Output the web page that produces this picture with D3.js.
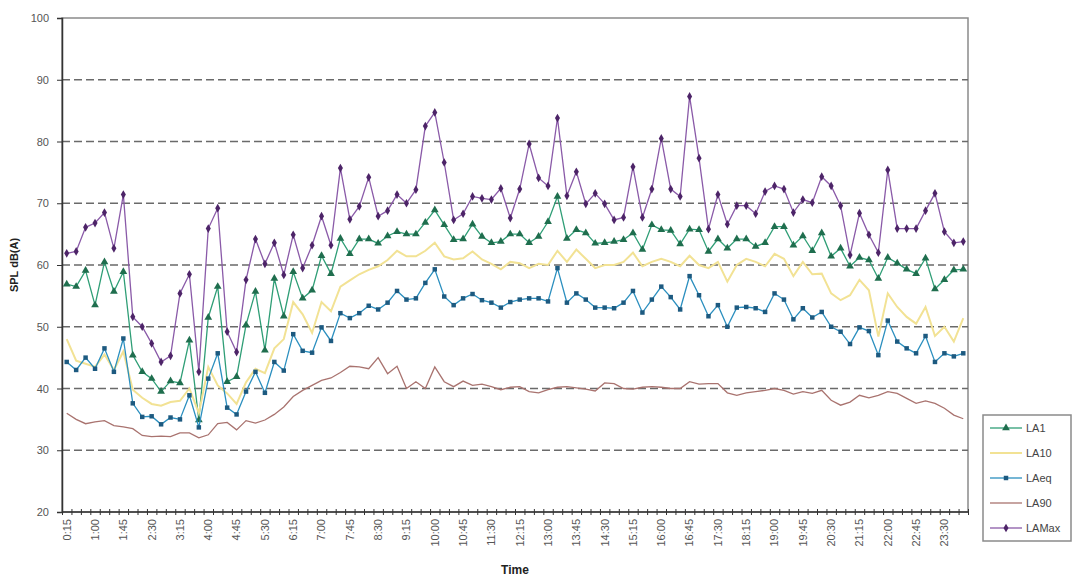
<!DOCTYPE html>
<html>
<head>
<meta charset="utf-8">
<script src="https://cdn.jsdelivr.net/npm/d3@7"></script>
<style>
  body { margin: 0; background: #fff; }
  svg { display: block; font-family: "Liberation Sans", Arial, sans-serif; }
</style>
</head>
<body>
<div id="chart"></div>
<script>
// 15 minute intervals, 0:15 .. 24:00
const times = [
  '0:15','0:30','0:45','1:00','1:15','1:30','1:45','2:00','2:15','2:30','2:45','3:00',
  '3:15','3:30','3:45','4:00','4:15','4:30','4:45','5:00','5:15','5:30','5:45','6:00',
  '6:15','6:30','6:45','7:00','7:15','7:30','7:45','8:00','8:15','8:30','8:45','9:00',
  '9:15','9:30','9:45','10:00','10:15','10:30','10:45','11:00','11:15','11:30','11:45','12:00',
  '12:15','12:30','12:45','13:00','13:15','13:30','13:45','14:00','14:15','14:30','14:45','15:00',
  '15:15','15:30','15:45','16:00','16:15','16:30','16:45','17:00','17:15','17:30','17:45','18:00',
  '18:15','18:30','18:45','19:00','19:15','19:30','19:45','20:00','20:15','20:30','20:45','21:00',
  '21:15','21:30','21:45','22:00','22:15','22:30','22:45','23:00','23:15','23:30','23:45','0:00'
];

// labels shown on the axis (every third interval)
const tickLabels = ['0:15','1:00','1:45','2:30','3:15','4:00','4:45','5:30','6:15','7:00',
  '7:45','8:30','9:15','10:00','10:45','11:30','12:15','13:00','13:45','14:30','15:15',
  '16:00','16:45','17:30','18:15','19:00','19:45','20:30','21:15','22:00','22:45','23:30'];

const yTicks = [20, 30, 40, 50, 60, 70, 80, 90, 100];

const la1 = [
  56.9, 56.5, 59.1, 53.5, 60.5, 55.7, 58.9, 45.4, 42.7, 41.6, 39.5, 41.2, 40.9, 47.8, 34.9, 51.5,
  56.5, 41.1, 41.9, 50.3, 55.7, 46.2, 57.8, 51.7, 58.9, 54.6, 55.9, 61.5, 58.6, 64.3, 61.8, 64.2,
  64.2, 63.5, 64.7, 65.4, 65.0, 65.0, 66.9, 68.9, 66.5, 64.1, 64.2, 66.6, 64.6, 63.6, 63.8, 65.0,
  65.0, 63.6, 64.6, 67.0, 71.1, 64.3, 65.7, 65.2, 63.5, 63.6, 63.8, 64.1, 65.2, 62.5, 66.5, 65.7,
  65.6, 63.4, 65.8, 65.7, 62.2, 64.2, 62.7, 64.2, 64.2, 63.0, 63.6, 66.2, 66.2, 63.2, 64.7, 62.3,
  65.2, 61.4, 62.7, 59.8, 61.2, 60.8, 57.8, 61.2, 60.3, 59.3, 58.6, 61.1, 56.1, 57.6, 59.2, 59.3
];

const la10 = [
  48.0, 44.5, 44.0, 43.5, 45.5, 43.0, 46.0, 39.8, 38.5, 37.5, 37.2, 37.8, 38.0, 40.0, 36.0, 43.5,
  40.5, 39.2, 37.5, 41.0, 43.2, 42.5, 46.5, 48.0, 54.0, 52.0, 49.0, 54.0, 52.5, 56.5, 57.5, 58.5,
  59.2, 59.8, 60.8, 62.3, 61.4, 61.4, 62.3, 63.6, 61.4, 60.9, 61.1, 62.2, 60.9, 60.2, 59.3, 60.5,
  60.3, 59.5, 60.2, 60.0, 62.3, 60.5, 62.5, 61.0, 59.5, 60.0, 60.0, 60.5, 62.0, 59.8, 60.5, 61.0,
  60.5, 59.8, 61.5, 60.0, 59.5, 60.5, 57.3, 60.0, 61.0, 60.5, 59.8, 61.8, 61.0, 58.2, 60.5, 58.5,
  58.6, 55.4, 54.3, 55.1, 57.6, 55.9, 48.4, 55.4, 53.2, 51.6, 50.5, 53.2, 48.5, 50.0, 47.6, 51.4
];

const laeq = [
  44.3, 43.0, 45.0, 43.2, 46.5, 42.7, 48.1, 37.6, 35.4, 35.5, 34.2, 35.3, 35.0, 38.9, 33.7, 41.6,
  45.7, 36.9, 35.8, 39.5, 42.7, 39.3, 44.3, 42.9, 48.8, 46.1, 45.8, 49.9, 47.7, 52.2, 51.4, 52.2,
  53.4, 52.8, 53.9, 55.8, 54.4, 54.6, 57.1, 59.3, 54.9, 53.5, 54.6, 55.3, 54.3, 53.9, 53.1, 54.0,
  54.4, 54.6, 54.6, 54.1, 59.5, 53.9, 55.4, 54.4, 53.1, 53.1, 53.0, 53.9, 55.8, 52.3, 54.4, 56.5,
  54.8, 52.8, 58.2, 55.1, 51.7, 53.5, 50.0, 53.1, 53.2, 53.0, 52.4, 55.4, 54.4, 51.2, 53.0, 51.5,
  52.4, 50.0, 49.2, 47.2, 49.9, 49.3, 45.4, 51.0, 47.6, 46.5, 45.7, 48.5, 44.3, 45.7, 45.2, 45.7
];

const la90 = [
  36.0, 35.0, 34.3, 34.6, 34.8, 34.0, 33.8, 33.5, 32.4, 32.2, 32.3, 32.2, 32.8, 32.8, 32.0, 32.5,
  34.3, 34.5, 33.3, 34.8, 34.4, 34.9, 35.8, 37.0, 38.7, 39.7, 40.5, 41.3, 41.7, 42.6, 43.6, 43.5,
  43.2, 45.0, 42.4, 43.6, 40.0, 41.1, 40.0, 43.5, 41.1, 40.3, 41.2, 40.5, 40.7, 40.3, 39.8, 40.2,
  40.3, 39.5, 39.3, 39.8, 40.2, 40.3, 40.1, 39.9, 39.6, 40.9, 40.8, 40.0, 39.9, 40.2, 40.3, 40.2,
  40.0, 40.0, 41.1, 40.7, 40.8, 40.8, 39.3, 38.9, 39.3, 39.5, 39.7, 40.0, 39.7, 39.1, 39.5, 39.2,
  39.7, 38.1, 37.3, 37.8, 38.9, 38.5, 38.9, 39.5, 39.2, 38.4, 37.6, 38.0, 37.6, 36.8, 35.7, 35.1
];

const lamax = [
  61.9, 62.2, 66.1, 66.8, 68.5, 62.7, 71.4, 51.6, 50.0, 47.3, 44.3, 45.3, 55.4, 58.5, 42.7, 65.9,
  69.2, 49.2, 45.9, 57.6, 64.2, 60.2, 63.6, 58.4, 64.9, 59.5, 63.2, 67.9, 63.2, 75.7, 67.4, 69.5,
  74.2, 67.9, 68.8, 71.4, 70.0, 72.2, 82.5, 84.7, 76.6, 67.3, 68.3, 71.1, 70.8, 70.6, 72.4, 67.6,
  72.3, 79.6, 74.1, 72.8, 83.8, 71.2, 75.1, 69.9, 71.6, 69.9, 67.3, 67.7, 75.9, 67.7, 72.3, 80.5,
  72.3, 71.1, 87.3, 77.3, 65.8, 71.4, 66.6, 69.6, 69.6, 68.3, 71.9, 72.8, 72.3, 68.5, 70.6, 70.1,
  74.3, 72.8, 69.6, 61.6, 68.4, 64.9, 62.0, 75.4, 65.9, 65.9, 65.9, 68.8, 71.6, 65.4, 63.6, 63.8
];

const seriesNames = ['LA1', 'LA10', 'LAeq', 'LA90', 'LAMax'];

const series = [
  { name: 'LA1',   values: la1,   line: '#2f9e76', fill: '#1f6e4e', marker: 'triangle' },
  { name: 'LA10',  values: la10,  line: '#f2e294', fill: '#efd77a', marker: null },
  { name: 'LAeq',  values: laeq,  line: '#2b8fbf', fill: '#1d5a80', marker: 'square' },
  { name: 'LA90',  values: la90,  line: '#a9736f', fill: '#a9736f', marker: null },
  { name: 'LAMax', values: lamax, line: '#8a5aa8', fill: '#4d2468', marker: 'diamond' }
];

const width = 1075, height = 579;
const plot = { left: 62, right: 968, top: 18, bottom: 512 };

const svg = d3.select('#chart').append('svg')
  .attr('width', width)
  .attr('height', height);

const x = d3.scaleBand()
  .domain(times)
  .range([plot.left, plot.right]);
const cx = d => x(d) + x.bandwidth() / 2;

const y = d3.scaleLinear()
  .domain([20, 100])
  .range([plot.bottom, plot.top]);

// plot area border
svg.append('rect')
  .attr('x', plot.left)
  .attr('y', plot.top)
  .attr('width', plot.right - plot.left)
  .attr('height', plot.bottom - plot.top)
  .attr('fill', 'none')
  .attr('stroke', '#8a8a8a')
  .attr('stroke-width', 1.5);

// dashed gridlines
svg.append('g')
  .selectAll('line')
  .data(yTicks.filter(d => d > 20 && d < 100))
  .join('line')
  .attr('x1', plot.left)
  .attr('x2', plot.right)
  .attr('y1', d => y(d))
  .attr('y2', d => y(d))
  .attr('stroke', '#6a6a6a')
  .attr('stroke-width', 1.5)
  .attr('stroke-dasharray', '8,4');

// y axis
const yAxis = svg.append('g')
  .attr('transform', `translate(${plot.left},0)`)
  .call(d3.axisLeft(y).tickValues(yTicks).tickSize(5).tickPadding(8));
yAxis.select('.domain').attr('stroke', '#333').attr('stroke-width', 1.5);
yAxis.selectAll('.tick line').attr('stroke', '#333');
yAxis.selectAll('.tick text')
  .attr('fill', '#555')
  .style('font-size', '11px');

svg.append('text')
  .attr('transform', `translate(18,${(plot.top + plot.bottom) / 2}) rotate(-90)`)
  .attr('text-anchor', 'middle')
  .style('font-size', '11px')
  .style('font-weight', 'bold')
  .attr('fill', '#222')
  .text('SPL dB(A)');

// x axis: cross ticks at category boundaries
const xb = d3.scaleLinear().domain([0, times.length]).range([plot.left, plot.right]);
const xTicks = svg.append('g')
  .attr('transform', `translate(0,${plot.bottom - 3})`)
  .call(d3.axisBottom(xb).tickValues(d3.range(0, times.length + 1)).tickSize(6).tickFormat(''));
xTicks.select('.domain').remove();
xTicks.selectAll('.tick line').attr('stroke', '#333');

svg.append('line')
  .attr('x1', plot.left)
  .attr('x2', plot.right)
  .attr('y1', plot.bottom)
  .attr('y2', plot.bottom)
  .attr('stroke', '#333')
  .attr('stroke-width', 1.5);

const xAxis = svg.append('g')
  .attr('transform', `translate(0,${plot.bottom})`)
  .call(d3.axisBottom(x).tickValues(tickLabels).tickSize(0));
xAxis.select('.domain').remove();
xAxis.selectAll('.tick text')
  .attr('transform', 'rotate(-90)')
  .attr('text-anchor', 'end')
  .attr('x', -7)
  .attr('y', 0)
  .attr('dy', '0.35em')
  .attr('fill', '#555')
  .style('font-size', '11px');

svg.append('text')
  .attr('x', (plot.left + plot.right) / 2)
  .attr('y', 574)
  .attr('text-anchor', 'middle')
  .style('font-size', '12px')
  .style('font-weight', 'bold')
  .attr('fill', '#222')
  .text('Time');

// markers
const symbolType = {
  triangle: d3.symbolTriangle,
  square: d3.symbolSquare,
  diamond: d3.symbolDiamond
};
const symbolSize = { triangle: 26, square: 20, diamond: 22 };

const line = d3.line()
  .x((d, i) => cx(times[i]))
  .y(d => y(d));

// draw in the order Excel stacks them (last series on top)
series.forEach(s => {
  const g = svg.append('g');
  g.append('path')
    .datum(s.values)
    .attr('fill', 'none')
    .attr('stroke', s.line)
    .attr('stroke-width', s.name === 'LA10' ? 2 : 1.3)
    .attr('d', line);
  if (s.marker) {
    g.selectAll('path.m')
      .data(s.values)
      .join('path')
      .attr('class', 'm')
      .attr('transform', (d, i) => `translate(${cx(times[i])},${y(d)})`)
      .attr('d', d3.symbol().type(symbolType[s.marker]).size(symbolSize[s.marker]))
      .attr('fill', s.fill);
  }
});

// legend
const legend = svg.append('g').attr('transform', 'translate(983,415)');
legend.append('rect')
  .attr('width', 88)
  .attr('height', 126)
  .attr('fill', '#fff')
  .attr('stroke', '#8a8a8a')
  .attr('stroke-width', 1.5);

const item = legend.selectAll('g.item')
  .data(series)
  .join('g')
  .attr('class', 'item')
  .attr('transform', (d, i) => `translate(0,${13 + i * 25})`);

item.append('line')
  .attr('x1', 7)
  .attr('x2', 39)
  .attr('stroke', d => d.line)
  .attr('stroke-width', d => d.name === 'LA10' ? 2 : 1.3);

item.filter(d => d.marker)
  .append('path')
  .attr('transform', 'translate(23,0)')
  .attr('d', d => d3.symbol().type(symbolType[d.marker]).size(symbolSize[d.marker])())
  .attr('fill', d => d.fill);

item.append('text')
  .attr('x', 43)
  .attr('dy', '0.35em')
  .style('font-size', '11px')
  .attr('fill', '#444')
  .text(d => d.name);
</script>
</body>
</html>
